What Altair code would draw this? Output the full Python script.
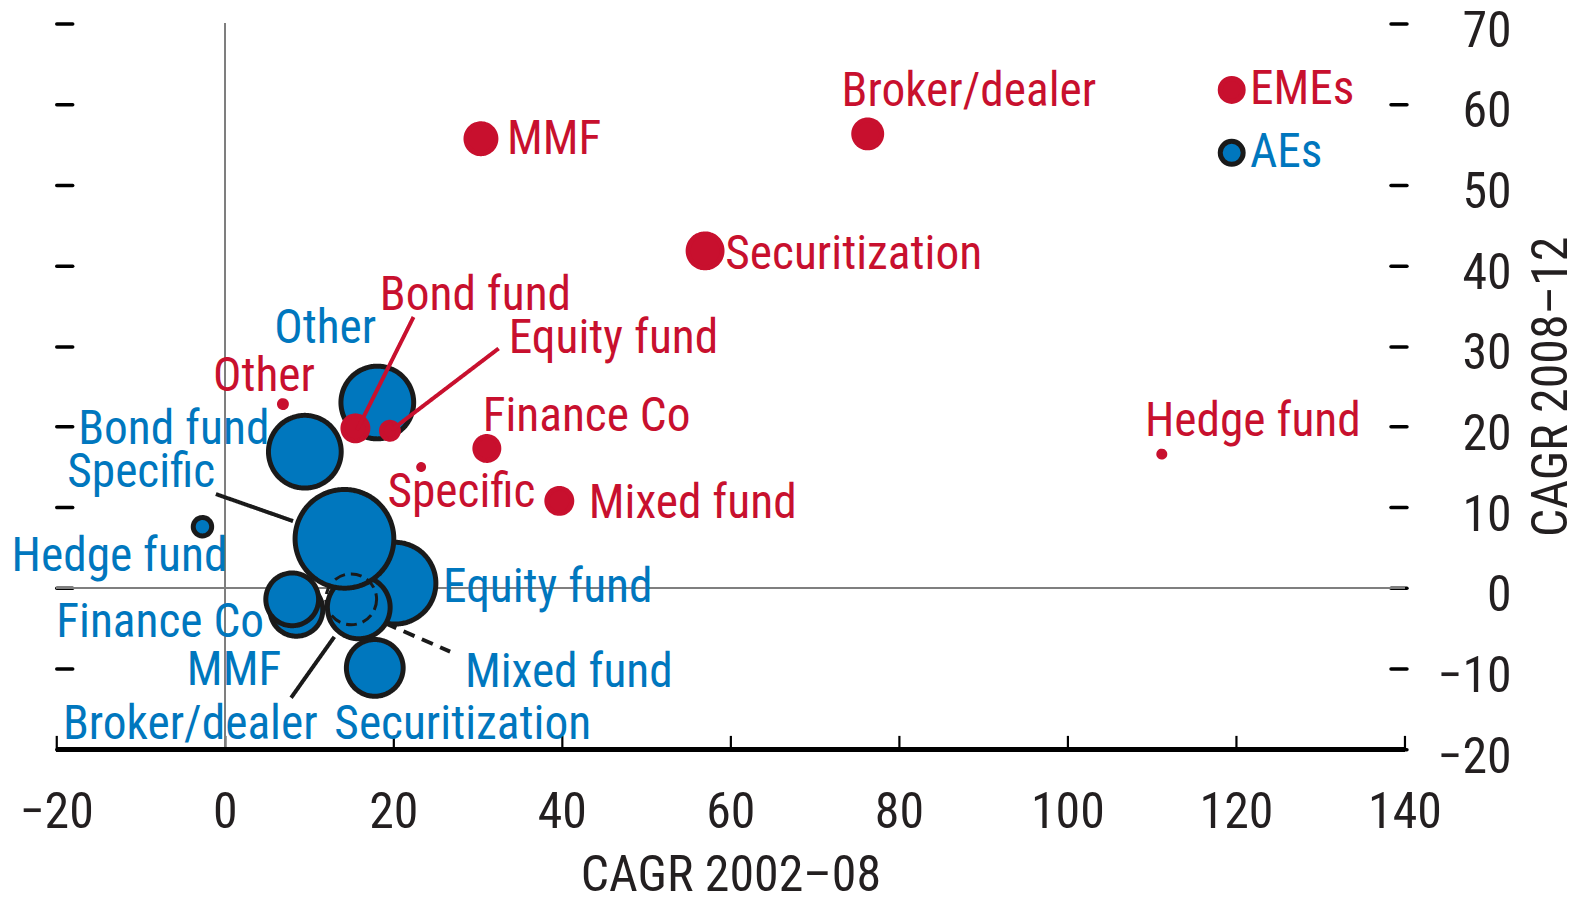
import altair as alt
import pandas as pd

RED = "#c8102e"
BLUE = "#0077be"
INK = "#231f20"
BLACK = "#1a1a1a"
FONT = "Roboto Condensed, Noto Sans Condensed, Liberation Sans Narrow, Arial Narrow, Liberation Sans, sans-serif"
FS = 50      # axis text
FS_LAB = 47.5  # annotation text

# ---- data ----
eme_names = ["MMF", "Broker/dealer", "Securitization", "Bond fund", "Equity fund",
             "Other", "Finance Co", "Specific", "Mixed fund", "Hedge fund"]
eme_x = [30.4, 76.3, 57.0, 15.5, 19.6, 6.9, 31.1, 23.3, 39.7, 111.2]
eme_y = [55.7, 56.3, 41.8, 19.8, 19.5, 22.8, 17.3, 15.0, 10.8, 16.6]
eme_size = [2.25, 1.96, 2.89, 1.56, 0.72, 0.12, 1.44, 0.06, 1.56, 0.09]
eme_label_x = [33.5, 73.2, 59.4, 18.4, 33.7, -1.4, 30.6, 19.3, 43.2, 109.2]
eme_label_y = [53.8, 59.8, 39.6, 34.5, 29.1, 24.4, 19.5, 10.0, 8.7, 18.9]

ae_names = ["Equity fund", "MMF", "Finance Co", "Broker/dealer", "Specific",
            "Securitization", "Mixed fund", "Bond fund", "Other", "Hedge fund"]
ae_x = [20.2, 8.5, 8.0, 15.9, 14.2, 17.8, 15.0, 9.5, 18.1, -2.65]
ae_y = [0.6, -2.7, -1.4, -2.4, 6.1, -9.9, -1.4, 16.9, 23.0, 7.6]
ae_size = [16.8, 7.0, 7.0, 9.9, 24.5, 8.1, 6.5, 13.3, 13.3, 0.85]
ae_dashed = [False, False, False, False, False, False, True, False, False, False]
ae_label_x = [25.9, -4.5, -20.0, -19.2, -18.7, 13.0, 28.5, -17.4, 5.86, -25.3]
ae_label_y = [-1.7, -12.0, -6.05, -18.75, 12.5, -18.75, -12.3, 17.9, 30.4, 2.05]

leader_group = ["EMEs", "EMEs", "AEs", "AEs", "AEs"]
leader_x1 = [22.4, 32.5, -1.06, 7.87, 19.05]
leader_y1 = [33.6, 29.7, 11.65, -13.6, -4.37]
leader_x2 = [15.7, 19.8, 8.1, 13.0, 26.74]
leader_y2 = [19.6, 19.6, 8.3, -6.05, -7.88]
leader_dashed = [False, False, False, False, True]

x_ticks = [-20, 0, 20, 40, 60, 80, 100, 120, 140]
y_ticks = [-20, -10, 0, 10, 20, 30, 40, 50, 60, 70]

# ---- tables ----
pts = pd.concat([
    pd.DataFrame({"name": ae_names, "x": ae_x, "y": ae_y, "v": ae_size,
                  "group": "AEs", "dashed": ae_dashed}),
    pd.DataFrame({"name": eme_names, "x": eme_x, "y": eme_y, "v": eme_size,
                  "group": "EMEs", "dashed": [False] * len(eme_names)}),
], ignore_index=True)

labels = pd.concat([
    pd.DataFrame({"name": ae_names, "lx": ae_label_x, "ly": ae_label_y, "group": "AEs"}),
    pd.DataFrame({"name": eme_names, "lx": eme_label_x, "ly": eme_label_y, "group": "EMEs"}),
], ignore_index=True)

leaders = pd.DataFrame({"group": leader_group, "x1": leader_x1, "y1": leader_y1,
                        "x2": leader_x2, "y2": leader_y2, "dashed": leader_dashed})

xs = alt.Scale(domain=[-20, 140], nice=False, zero=False)
ys = alt.Scale(domain=[-20, 70], nice=False, zero=False)
fill_scale = alt.Scale(domain=["EMEs", "AEs"], range=[RED, BLUE])
stroke_scale = alt.Scale(domain=["EMEs", "AEs"], range=[RED, BLACK])
# Vega symbol size = area of bounding square (r = sqrt(size)/2)
size_scale = alt.Scale(domain=[0, 30], range=[0, 12000], zero=True)

legend = alt.Legend(
    title=None, orient="none", legendX=1155, legendY=43, direction="vertical",
    symbolType="circle", symbolSize=529, symbolStrokeWidth=5,
    labelFontSize=FS_LAB, labelFont=FONT, labelOffset={"expr": "-5.5"},
    rowPadding=14, padding=0,
    labelColor={"expr": "datum.label == 'EMEs' ? '%s' : '%s'" % (RED, BLUE)},
)

x_axis = alt.Axis(values=x_ticks, orient="bottom", offset=-14, tickSize=14,
                  tickWidth=2.2, tickColor="black", domain=False, grid=False,
                  labelFontSize=FS, labelFont=FONT, labelColor=INK,
                  labelBaseline="alphabetic", labelPadding=78,
                  labelFlush=False, labelOverlap=False, labelBound=False,
                  title="CAGR 2002–08", titleFontSize=FS, titleFont=FONT,
                  titleFontWeight="normal", titleColor=INK,
                  titleBaseline="alphabetic", titleAlign="center",
                  titleX=676, titleY=156)

y_right = alt.Axis(values=y_ticks, orient="right", offset=-14, tickSize=16,
                   tickWidth=3.5, tickColor="black", tickCap="round",
                   domain=False, grid=False,
                   labelFontSize=FS, labelFont=FONT, labelColor=INK,
                   labelAlign="right", labelBaseline="alphabetic",
                   labelPadding=105, labelOffset=23,
                   labelFlush=False, labelOverlap=False, labelBound=False,
                   title="CAGR 2008–12", titleFontSize=FS, titleFont=FONT,
                   titleFontWeight="normal", titleColor=INK, titleAngle=270,
                   titleBaseline="alphabetic", titleAlign="center",
                   titleX=176, titleY=364)

y_left = alt.Axis(values=y_ticks, orient="left", offset=-16, tickSize=16,
                  tickWidth=3.5, tickColor="black", tickCap="round",
                  domain=False, grid=False, labels=False, title=None)

# zero lines (vertical one carries the bottom axis, horizontal one the left ticks)
vline = alt.Chart(pts).mark_rule(color="#7f7f7f", strokeWidth=1.5).encode(
    x=alt.X(datum=0, type="quantitative", scale=xs, axis=x_axis),
)
hline = alt.Chart(pts).mark_rule(color="#7f7f7f", strokeWidth=1.5).encode(
    y=alt.Y(datum=0, type="quantitative", scale=ys, axis=y_left),
)

bottom_line = alt.Chart(pts).mark_rule(color="black", strokeWidth=4.5).encode(
    x=alt.X(datum=-20, type="quantitative", scale=xs, axis=None),
    x2=alt.datum(140),
    y=alt.Y(datum=-20, type="quantitative", scale=ys, axis=None),
)

bubbles = alt.Chart(pts).mark_circle(opacity=1).encode(
    x=alt.X("x:Q", scale=xs, axis=None),
    y=alt.Y("y:Q", scale=ys, axis=y_right),
    fill=alt.Fill("group:N", scale=fill_scale, legend=legend),
    stroke=alt.Stroke("group:N", scale=stroke_scale, legend=legend),
    size=alt.Size("v:Q", scale=size_scale, legend=None),
    strokeWidth=alt.condition("datum.dashed", alt.value(3), alt.value(5)),
    strokeDash=alt.condition("datum.dashed", alt.value([11, 6]), alt.value([1, 0])),
    fillOpacity=alt.condition("datum.dashed", alt.value(0), alt.value(1)),
)

leader_lines = alt.Chart(leaders).mark_rule(strokeWidth=4).encode(
    x=alt.X("x1:Q", scale=xs, axis=None),
    y=alt.Y("y1:Q", scale=ys, axis=None),
    x2="x2:Q",
    y2="y2:Q",
    color=alt.condition("datum.group == 'EMEs'", alt.value(RED), alt.value(BLACK)),
    strokeDash=alt.condition("datum.dashed", alt.value([12, 8]), alt.value([1, 0])),
)

texts = alt.Chart(labels).mark_text(align="left", baseline="alphabetic",
                                    fontSize=FS_LAB, font=FONT).encode(
    x=alt.X("lx:Q", scale=xs, axis=None),
    y=alt.Y("ly:Q", scale=ys, axis=None),
    text="name:N",
    color=alt.condition("datum.group == 'EMEs'", alt.value(RED), alt.value(BLUE)),
)

chart = alt.layer(vline, hline, bottom_line, bubbles, leader_lines, texts).resolve_axis(
    x="independent", y="independent"
).properties(
    width=1352, height=728,
    padding={"left": 48.4, "top": 14.2, "right": 168, "bottom": 143},
    autosize=alt.AutoSizeParams(type="none"),
    background="white",
).configure_view(stroke=None)

chart.save("out.html", embed_options={"renderer": "svg", "actions": False})
